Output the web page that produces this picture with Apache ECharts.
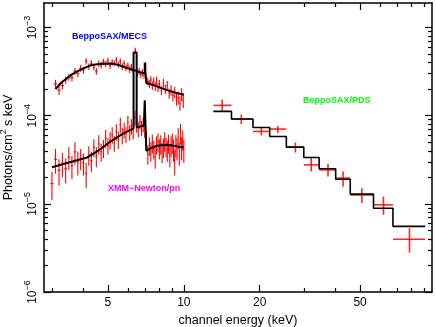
<!DOCTYPE html>
<html>
<head>
<meta charset="utf-8">
<script src="https://cdn.jsdelivr.net/npm/echarts@6/dist/echarts.min.js"></script>
<style>
    html, body { margin: 0; padding: 0; background: #fff; }
    #spectrum { width: 436px; height: 327px; }
</style>
</head>
<body>
<div id="spectrum"></div>
<script>

// ------------------------------
// Data
// ------------------------------

// Axis ranges and ticks
var energyRange = [2.79, 96.4];
var fluxRange = [1e-6, 1.9e-3];
var energyMajorTicks = [5, 10, 20, 50];
var energyMinorTicks = [3, 4, 6, 7, 8, 9, 30, 40, 60, 70, 80, 90];
var fluxMajorTicks = [1e-6, 1e-5, 1e-4, 1e-3];

// BeppoSAX/MECS data
var mecsHalfBin = 0.05;
var mecsEnergy = [3.10, 3.20, 3.30, 3.40, 3.50, 3.60, 3.70, 3.80, 3.90, 4.00,
    4.10, 4.20, 4.30, 4.40, 4.50, 4.60, 4.70, 4.80, 4.90, 5.00,
    5.10, 5.20, 5.30, 5.40, 5.50, 5.60, 5.70, 5.80, 5.90, 6.00,
    6.10, 6.20, 6.30, 6.42, 6.55, 6.65, 6.75, 6.85, 6.95, 7.06,
    7.20, 7.30, 7.40, 7.50, 7.60, 7.70, 7.80, 7.90, 8.00, 8.15,
    8.30, 8.45, 8.60, 8.75, 8.90, 9.05, 9.20, 9.35, 9.50, 9.65,
    9.80, 9.95];
var mecsFlux = [2.30e-4, 1.95e-4, 2.20e-4, 2.55e-4, 2.75e-4, 2.70e-4, 3.20e-4, 3.00e-4, 3.45e-4, 3.30e-4,
    4.15e-4, 3.60e-4, 3.95e-4, 3.55e-4, 3.20e-4, 3.90e-4, 3.75e-4, 4.10e-4, 3.85e-4, 4.20e-4,
    3.70e-4, 4.05e-4, 3.95e-4, 4.30e-4, 3.80e-4, 4.15e-4, 3.60e-4, 3.90e-4, 3.50e-4, 3.70e-4,
    3.35e-4, 3.55e-4, 3.20e-4, 5.50e-4, 3.05e-4, 3.20e-4, 2.95e-4, 3.10e-4, 2.90e-4, 3.75e-4,
    2.45e-4, 2.30e-4, 2.55e-4, 2.20e-4, 2.45e-4, 2.15e-4, 2.50e-4, 2.10e-4, 2.30e-4, 1.95e-4,
    2.35e-4, 2.00e-4, 2.20e-4, 1.80e-4, 1.95e-4, 1.70e-4, 1.85e-4, 1.55e-4, 1.60e-4, 1.40e-4,
    1.75e-4, 1.50e-4];
var mecsError = [0.25e-4, 0.22e-4, 0.22e-4, 0.24e-4, 0.25e-4, 0.25e-4, 0.28e-4, 0.27e-4, 0.30e-4, 0.29e-4,
    0.33e-4, 0.30e-4, 0.32e-4, 0.30e-4, 0.28e-4, 0.32e-4, 0.31e-4, 0.33e-4, 0.31e-4, 0.34e-4,
    0.31e-4, 0.33e-4, 0.32e-4, 0.35e-4, 0.32e-4, 0.34e-4, 0.31e-4, 0.33e-4, 0.30e-4, 0.32e-4,
    0.30e-4, 0.31e-4, 0.29e-4, 0.40e-4, 0.28e-4, 0.29e-4, 0.28e-4, 0.29e-4, 0.28e-4, 0.32e-4,
    0.25e-4, 0.24e-4, 0.26e-4, 0.24e-4, 0.26e-4, 0.24e-4, 0.27e-4, 0.24e-4, 0.26e-4, 0.24e-4,
    0.27e-4, 0.25e-4, 0.27e-4, 0.24e-4, 0.26e-4, 0.25e-4, 0.27e-4, 0.25e-4, 0.27e-4, 0.26e-4,
    0.30e-4, 0.28e-4];

// BeppoSAX/MECS model
var mecsModelEnergy = [3.10, 3.25, 3.45, 3.60, 3.78, 4.00, 4.27, 4.60, 5.12, 5.50, 5.79, 6.00, 6.32,
    6.32, 6.50, 6.50, 6.80, 7.00, 7.00, 7.10, 7.10, 7.50, 8.09, 8.86, 10.0];
var mecsModelFlux = [2.00e-4, 2.35e-4, 2.68e-4, 2.95e-4, 3.18e-4, 3.45e-4, 3.73e-4, 3.85e-4, 3.90e-4, 3.78e-4, 3.57e-4, 3.45e-4, 3.27e-4,
    5.20e-4, 5.20e-4, 3.20e-4, 3.08e-4, 3.05e-4, 4.00e-4, 4.00e-4, 2.35e-4, 2.25e-4, 2.07e-4, 1.89e-4, 1.73e-4];

// XMM-Newton/pn data
var pnHalfBin = 0.04;
var pnEnergy = [3.0, 3.1, 3.2, 3.3, 3.4, 3.5, 3.6, 3.7, 3.8, 3.9,
    4.0, 4.1, 4.2, 4.3, 4.4, 4.5, 4.6, 4.7, 4.8, 4.9,
    5.0, 5.1, 5.2, 5.3, 5.4, 5.5, 5.6, 5.7, 5.8, 5.9,
    6.0, 6.1, 6.2, 6.3, 6.4, 6.5, 6.6, 6.7, 6.8, 6.9,
    7.0, 7.1, 7.2, 7.3, 7.4, 7.5, 7.6, 7.7, 7.8, 7.9,
    8.0, 8.1, 8.2, 8.3, 8.4, 8.5, 8.6, 8.7, 8.8, 8.9,
    9.0, 9.1, 9.2, 9.3, 9.4, 9.5, 9.6, 9.7, 9.8, 9.9,
    10.0];
var pnFlux = [1.7e-5, 3.2e-5, 2.4e-5, 2.9e-5, 2.5e-5, 3.4e-5, 2.7e-5, 3.9e-5, 3.0e-5, 3.3e-5,
    2.9e-5, 2.2e-5, 3.6e-5, 3.1e-5, 4.4e-5, 3.5e-5, 4.8e-5, 3.9e-5, 4.3e-5, 5.6e-5,
    4.6e-5, 5.3e-5, 6.1e-5, 4.9e-5, 6.6e-5, 5.4e-5, 7.9e-5, 6.0e-5, 6.9e-5, 6.2e-5,
    8.4e-5, 6.5e-5, 7.6e-5, 6.8e-5, 9.6e-5, 7.9e-5, 7.1e-5, 8.6e-5, 7.3e-5, 8.0e-5,
    7.0e-5, 5.5e-5, 3.7e-5, 4.6e-5, 4.0e-5, 4.9e-5, 4.2e-5, 3.4e-5, 4.7e-5, 5.1e-5,
    4.3e-5, 4.8e-5, 3.9e-5, 4.4e-5, 5.2e-5, 4.5e-5, 4.1e-5, 4.9e-5, 3.6e-5, 4.6e-5,
    5.0e-5, 4.2e-5, 3.1e-5, 4.7e-5, 4.3e-5, 5.7e-5, 3.8e-5, 6.4e-5, 4.4e-5, 5.4e-5,
    4.1e-5];
var pnError = [0.6e-5, 1.0e-5, 0.8e-5, 0.9e-5, 0.8e-5, 1.0e-5, 0.8e-5, 1.1e-5, 0.9e-5, 0.9e-5,
    0.8e-5, 0.7e-5, 0.9e-5, 0.8e-5, 1.0e-5, 0.9e-5, 1.2e-5, 0.9e-5, 1.0e-5, 1.3e-5,
    1.0e-5, 1.2e-5, 1.3e-5, 1.0e-5, 1.4e-5, 1.2e-5, 1.6e-5, 1.3e-5, 1.4e-5, 1.3e-5,
    1.6e-5, 1.3e-5, 1.5e-5, 1.4e-5, 1.8e-5, 1.5e-5, 1.4e-5, 1.6e-5, 1.4e-5, 1.5e-5,
    1.4e-5, 1.3e-5, 0.9e-5, 1.1e-5, 1.0e-5, 1.2e-5, 1.0e-5, 0.9e-5, 1.1e-5, 1.2e-5,
    1.1e-5, 1.2e-5, 1.0e-5, 1.1e-5, 1.3e-5, 1.1e-5, 1.1e-5, 1.2e-5, 1.0e-5, 1.2e-5,
    1.3e-5, 1.2e-5, 1.0e-5, 1.3e-5, 1.2e-5, 1.5e-5, 1.1e-5, 1.7e-5, 1.3e-5, 1.4e-5,
    1.2e-5];

// XMM-Newton/pn model
var pnModelEnergy = [3.0, 3.5, 4.14, 4.53, 5.12, 5.79, 6.32, 6.32, 6.50, 6.50, 6.94, 7.0, 7.0, 7.1, 7.1,
    7.4, 7.84, 8.58, 10.0];
var pnModelFlux = [2.6e-5, 2.95e-5, 3.36e-5, 3.93e-5, 5.1e-5, 6.36e-5, 7.2e-5, 3.25e-4, 3.25e-4, 7.4e-5, 7.7e-5, 7.7e-5, 1.5e-4, 1.5e-4, 4.0e-5,
    4.3e-5, 4.56e-5, 4.68e-5, 4.36e-5];

// BeppoSAX/PDS data and model (bin edges shared)
var pdsEdges = [13.1, 15.45, 18.8, 21.9, 25.5, 29.9, 34.4, 40.0, 45.7, 56.5, 67.5, 90.6];
var pdsEnergy = [14.2, 16.9, 20.3, 23.6, 27.7, 32.0, 37.3, 42.8, 50.8, 61.9, 78.5];
var pdsFlux = [1.31e-4, 9.17e-5, 6.63e-5, 7.06e-5, 4.40e-5, 2.77e-5, 2.43e-5, 1.96e-5, 1.26e-5, 9.75e-6, 3.97e-6];
var pdsHigh = [1.52e-4, 1.03e-4, 7.25e-5, 7.70e-5, 4.97e-5, 3.31e-5, 2.85e-5, 2.33e-5, 1.50e-5, 1.21e-5, 5.3e-6];
var pdsLow = [1.12e-4, 8.05e-5, 5.97e-5, 6.36e-5, 3.83e-5, 2.33e-5, 2.05e-5, 1.57e-5, 1.02e-5, 7.5e-6, 2.8e-6];
var pdsModel = [1.12e-4, 9.17e-5, 7.36e-5, 5.82e-5, 4.40e-5, 3.36e-5, 2.50e-5, 1.90e-5, 1.29e-5, 8.93e-6, 5.55e-6];


// ------------------------------
// Chart setup
// ------------------------------

var FONT = '"Liberation Sans", Arial, sans-serif';

// Build cross items: [E, F, Elo, Ehi, Fhi, Flo]
var buildCrosses = function (energy, flux, error, halfBin) {
    var out = [];
    for (var i = 0; i < energy.length; i++) {
        out.push([energy[i], flux[i], energy[i] - halfBin, energy[i] + halfBin,
            flux[i] + error[i], flux[i] - error[i]]);
    }
    return out;
};

var pdsCrosses = [];
for (var i = 0; i < pdsEnergy.length; i++) {
    pdsCrosses.push([pdsEnergy[i], pdsFlux[i], pdsEdges[i], pdsEdges[i + 1], pdsHigh[i], pdsLow[i]]);
}

var pairs = function (xs, ys) {
    var out = [];
    for (var i = 0; i < xs.length; i++) out.push([xs[i], ys[i]]);
    return out;
};

var pdsStep = [];
for (var i = 0; i < pdsEdges.length; i++) {
    pdsStep.push([pdsEdges[i], pdsModel[Math.min(i, pdsModel.length - 1)]]);
}

var minorFlux = [];
for (var d = 0; d < 3; d++) {
    for (var m = 2; m <= 9; m++) {
        minorFlux.push(m * fluxMajorTicks[d]);
    }
}

// Render a cross (error bars) for each point
var crossRenderer = function (color, width) {
    return function (params, api) {
        var e = api.value(0), f = api.value(1);
        var l = api.coord([api.value(2), f]);
        var r = api.coord([api.value(3), f]);
        var t = api.coord([e, api.value(4)]);
        var b = api.coord([e, api.value(5)]);
        return {
            type: 'group',
            children: [
                { type: 'line', shape: { x1: l[0], y1: l[1], x2: r[0], y2: r[1] }, style: { stroke: color, lineWidth: width } },
                { type: 'line', shape: { x1: t[0], y1: t[1], x2: b[0], y2: b[1] }, style: { stroke: color, lineWidth: width } }
            ]
        };
    };
};

var xAxisOf = function (position, ticks, len, withLabels) {
    return {
        type: 'log',
        position: position,
        min: energyRange[0],
        max: energyRange[1],
        axisLine: { show: withLabels !== null, lineStyle: { color: '#000', width: 1.5 } },
        axisTick: { show: true, inside: true, length: len, customValues: ticks, lineStyle: { color: '#000', width: 1.2 } },
        axisLabel: {
            show: !!withLabels,
            customValues: ticks,
            margin: 5,
            color: '#000',
            fontFamily: FONT,
            fontSize: 12
        },
        splitLine: { show: false },
        minorTick: { show: false },
        name: withLabels ? 'channel energy (keV)' : '',
        nameLocation: 'middle',
        nameGap: 16,
        nameTextStyle: { color: '#000', fontFamily: FONT, fontSize: 12.5 }
    };
};

var yAxisOf = function (position, ticks, len, withLabels) {
    return {
        type: 'log',
        position: position,
        min: fluxRange[0],
        max: fluxRange[1],
        axisLine: { show: withLabels !== null, lineStyle: { color: '#000', width: 1.5 } },
        axisTick: { show: true, inside: true, length: len, customValues: ticks, lineStyle: { color: '#000', width: 1.2 } },
        axisLabel: {
            show: !!withLabels,
            customValues: ticks,
            rotate: 90,
            margin: 5,
            color: '#000',
            formatter: function (v) {
                var p = Math.round(Math.log(v) / Math.LN10);
                return '{b|10}{s|\u2212' + (-p) + '}';
            },
            rich: {
                b: { fontFamily: FONT, fontSize: 12, color: '#000', verticalAlign: 'bottom', lineHeight: 16 },
                s: { fontFamily: FONT, fontSize: 9, color: '#000', verticalAlign: 'top', lineHeight: 16 }
            }
        },
        splitLine: { show: false },
        minorTick: { show: false },
        name: withLabels ? '{t|Photons/cm}{u|2}{t| s keV}' : '',
        nameLocation: 'middle',
        nameGap: 22,
        nameRotate: 90,
        nameTextStyle: {
            rich: {
                t: { fontFamily: FONT, fontSize: 12.5, color: '#000', verticalAlign: 'bottom', lineHeight: 16 },
                u: { fontFamily: FONT, fontSize: 9, color: '#000', verticalAlign: 'top', lineHeight: 16 }
            }
        }
    };
};

var chart = echarts.init(document.getElementById('spectrum'), null, { renderer: 'canvas' });

chart.setOption({
    animation: false,
    backgroundColor: '#fff',
    grid: { left: 44, right: 4, top: 3, bottom: 35, containLabel: false, outerBoundsMode: 'none' },

    xAxis: [
        xAxisOf('bottom', energyMajorTicks, 7, true),
        xAxisOf('bottom', energyMinorTicks, 4, null),
        xAxisOf('top', energyMajorTicks, 7, false),
        xAxisOf('top', energyMinorTicks, 4, null)
    ],
    yAxis: [
        yAxisOf('left', fluxMajorTicks, 7, true),
        yAxisOf('left', minorFlux, 4, null),
        yAxisOf('right', fluxMajorTicks, 7, false),
        yAxisOf('right', minorFlux, 4, null)
    ],

    graphic: [
        { type: 'text', left: 72, top: 32, style: { text: 'BeppoSAX/MECS', fill: '#0000ff', font: 'bold 9px ' + FONT } },
        { type: 'text', left: 108, top: 184, style: { text: 'XMM\u2212Newton/pn', fill: '#ff00ff', font: 'bold 9px ' + FONT } },
        { type: 'text', left: 303, top: 96, style: { text: 'BeppoSAX/PDS', fill: '#00ff00', font: 'bold 9px ' + FONT } }
    ],

    series: [
        {
            type: 'custom', name: 'pn data',
            renderItem: crossRenderer('#ff0000', 1.1),
            encode: { x: 0, y: 1 },
            data: buildCrosses(pnEnergy, pnFlux, pnError, pnHalfBin)
        },
        {
            type: 'custom', name: 'MECS data',
            renderItem: crossRenderer('#ff0000', 1.1),
            encode: { x: 0, y: 1 },
            data: buildCrosses(mecsEnergy, mecsFlux, mecsError, mecsHalfBin)
        },
        {
            type: 'custom', name: 'PDS data',
            renderItem: crossRenderer('rgba(255,0,0,0.85)', 1.6),
            encode: { x: 0, y: 1 },
            data: pdsCrosses
        },
        {
            type: 'line', name: 'MECS model', showSymbol: false, silent: true,
            lineStyle: { color: '#000', width: 2 },
            data: pairs(mecsModelEnergy, mecsModelFlux)
        },
        {
            type: 'line', name: 'pn model', showSymbol: false, silent: true,
            lineStyle: { color: '#000', width: 2 },
            data: pairs(pnModelEnergy, pnModelFlux)
        },
        {
            type: 'line', name: 'PDS model', showSymbol: false, silent: true, step: 'end',
            lineStyle: { color: '#000', width: 1.6 },
            data: pdsStep
        }
    ]
});

</script>
</body>
</html>
